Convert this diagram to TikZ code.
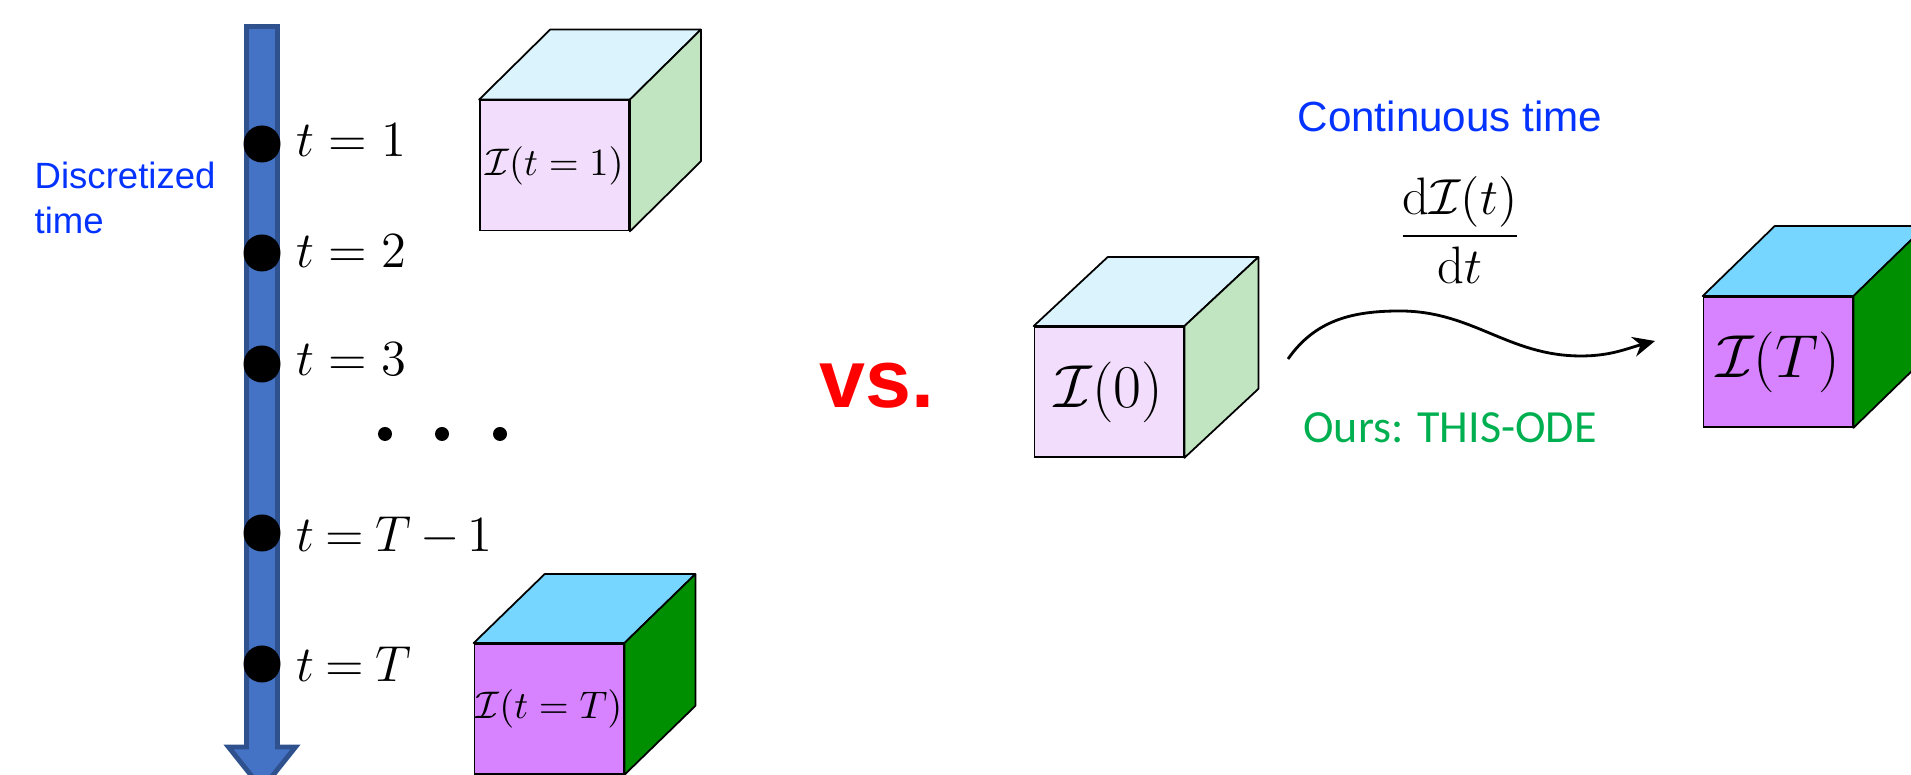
\documentclass[tikz,border=0pt]{standalone}
\usepackage{amsmath}
\usepackage{fontspec}
\usepackage{tikz}
\usetikzlibrary{arrows.meta, positioning, calc}
\newfontfamily\arialfont{Liberation Sans}
\newfontfamily\calibrifont{Carlito}
\newcommand\tightspacing{\thickmuskip=4mu\relax\medmuskip=3mu\relax}
\definecolor{cAxis}{RGB}{68,114,196}
\definecolor{cAxisLine}{RGB}{47,82,143}
\definecolor{cBlue}{RGB}{4,51,255}
\definecolor{cGreen}{RGB}{0,176,80}
\definecolor{cRed}{RGB}{255,0,0}
\definecolor{cFrontL}{RGB}{242,222,252}
\definecolor{cTopL}{RGB}{218,243,253}
\definecolor{cSideL}{RGB}{193,228,193}
\definecolor{cFront}{RGB}{215,131,255}
\definecolor{cTop}{RGB}{118,214,255}
\definecolor{cSide}{RGB}{0,143,0}
\tikzset{
	timedot/.style ={circle, fill=black, minimum size=0.37cm, inner sep=0pt},
	smalldot/.style={circle, fill=black, minimum size=0.14cm, inner sep=0pt},
	tlabel/.style  ={anchor=base west, inner sep=0pt, font=\fontsize{15}{18}\selectfont},
	tlabelsm/.style={anchor=base west, inner sep=0pt, font=\fontsize{13.4}{16}\selectfont\tightspacing},
	face/.style    ={rectangle, draw=black, line width=0.5pt, inner sep=0pt, minimum width=1.49cm, minimum height=1.30cm},
	facesides/.style={draw=black, line width=0.5pt, line join=round},
	wave/.style    ={-{Stealth[length=2.2mm, width=2mm]}, line width=0.8pt},
}
\begin{document}
\begin{tikzpicture}
	\useasboundingbox (0,0) rectangle (19.11,7.75);
	% discrete time axis
	\draw[line width=1.4pt, draw=cAxisLine, fill=cAxis, line join=miter]
		(2.465,7.485) -- (2.775,7.485) -- (2.775,0.28) -- (2.955,0.28) -- (2.62,-0.14)
		-- (2.285,0.28) -- (2.465,0.28) -- cycle;
	\node[anchor=west, align=left, inner sep=0pt, text=cBlue, font=\arialfont\fontsize{10.4}{12.8}\selectfont]
		(disc) at (0.34,5.77) {Discretized\\time};
	\node[timedot] (d1) at (2.62,6.31) {};
	\node[timedot] (d2) at (2.62,5.22) {};
	\node[timedot] (d3) at (2.62,4.11) {};
	\node[timedot] (d4) at (2.62,2.42) {};
	\node[timedot] (d5) at (2.62,1.11) {};
	\node[tlabel] (l1) at (2.96,6.18) {$t=1$};
	\node[tlabel] (l2) at (2.96,5.07) {$t=2$};
	\node[tlabel] (l3) at (2.96,3.99) {$t=3$};
	\node[tlabelsm] (l4) at (2.96,2.23) {$t=T-1$};
	\node[tlabelsm] (l5) at (2.96,0.93) {$t=T$};
	\node[smalldot] (e1) at (3.85,3.41) {};
	\node[smalldot] (e2) at (4.42,3.41) {};
	\node[smalldot] (e3) at (5.00,3.41) {};
	% cubes of the discrete steps
	\node[face, fill=cFrontL, font=\fontsize{11.4}{13}\selectfont] (c1) at (5.545,6.095) {$\mathcal{I}(t=1)$};
	\draw[facesides, fill=cTopL] (c1.north west) -- ($(c1.north west)+(0.71,0.70)$) -- ($(c1.north east)+(0.71,0.70)$) -- (c1.north east) -- cycle;
	\draw[facesides, fill=cSideL] (c1.north east) -- ($(c1.north east)+(0.71,0.70)$) -- ($(c1.south east)+(0.71,0.70)$) -- (c1.south east) -- cycle;
	\node[face, fill=cFront, font=\fontsize{11.4}{13}\selectfont] (c2) at (5.49,0.66) {$\mathcal{I}(t=T)$};
	\draw[facesides, fill=cTop] (c2.north west) -- ($(c2.north west)+(0.71,0.69)$) -- ($(c2.north east)+(0.71,0.69)$) -- (c2.north east) -- cycle;
	\draw[facesides, fill=cSide] (c2.north east) -- ($(c2.north east)+(0.71,0.69)$) -- ($(c2.south east)+(0.71,0.69)$) -- (c2.south east) -- cycle;
	\node[anchor=base, text=cRed, font=\arialfont\bfseries\fontsize{23.5}{28}\selectfont] (vs) at (8.77,3.67) {vs.};
	% continuous time
	\node[face, fill=cFrontL, font=\fontsize{18.2}{21}\selectfont] (c3) at (11.09,3.83) {$\mathcal{I}(0)$};
	\draw[facesides, fill=cTopL] (c3.north west) -- ($(c3.north west)+(0.74,0.69)$) -- ($(c3.north east)+(0.74,0.69)$) -- (c3.north east) -- cycle;
	\draw[facesides, fill=cSideL] (c3.north east) -- ($(c3.north east)+(0.74,0.69)$) -- ($(c3.south east)+(0.74,0.69)$) -- (c3.south east) -- cycle;
	\node[face, fill=cFront, font=\fontsize{18.2}{21}\selectfont] (c4) at (17.78,4.13) {$\mathcal{I}(T)$};
	\draw[facesides, fill=cTop] (c4.north west) -- ($(c4.north west)+(0.72,0.70)$) -- ($(c4.north east)+(0.72,0.70)$) -- (c4.north east) -- cycle;
	\draw[facesides, fill=cSide] (c4.north east) -- ($(c4.north east)+(0.72,0.70)$) -- ($(c4.south east)+(0.72,0.70)$) -- (c4.south east) -- cycle;
	\node[anchor=base, text=cBlue, font=\arialfont\fontsize{12}{14}\selectfont] (cont) at (14.50,6.43) {Continuous time};
	\node[anchor=base, font=\fontsize{15}{18}\selectfont] (rate) at (14.60,5.26) {$\displaystyle\frac{\mathrm{d}\mathcal{I}(t)}{\mathrm{d}t}$};
	\node[anchor=base, text=cGreen, font=\calibrifont\fontsize{13.1}{15}\selectfont] (ours) at (14.50,3.32) {Ours: THIS-ODE};
	\coordinate (ws) at (12.88,4.16);
	\coordinate (we) at (16.55,4.34);
	\draw[wave] (ws) to[out=55,in=180] (14.00,4.64) to[out=0,in=180] (15.81,4.19) to[out=0,in=195] (we);
\end{tikzpicture}
\end{document}
